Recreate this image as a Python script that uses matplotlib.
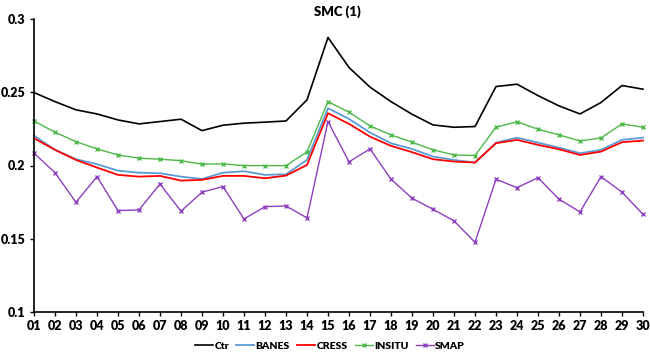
import matplotlib.pyplot as plt
import numpy as np

plt.rcParams['font.family'] = ['Lato', 'DejaVu Sans']
plt.rcParams['font.weight'] = 'heavy'

days = ['%02d' % d for d in range(1, 31)]

ctr = [0.2498, 0.2436, 0.2380, 0.2352, 0.2311, 0.2284, 0.2300, 0.2316, 0.2238, 0.2275,
       0.2289, 0.2296, 0.2304, 0.2448, 0.2874, 0.2669, 0.2535, 0.2436, 0.2350, 0.2277,
       0.2261, 0.2266, 0.2539, 0.2555, 0.2477, 0.2407, 0.2352, 0.2430, 0.2546, 0.2521]
banes = [0.2204, 0.2107, 0.2043, 0.2009, 0.1965, 0.1951, 0.1947, 0.1924, 0.1908, 0.1951,
         0.1961, 0.1936, 0.1940, 0.2038, 0.2391, 0.2318, 0.2225, 0.2152, 0.2113, 0.2061,
         0.2038, 0.2020, 0.2156, 0.2190, 0.2156, 0.2122, 0.2084, 0.2107, 0.2175, 0.2190]
cress = [0.2186, 0.2107, 0.2038, 0.1986, 0.1936, 0.1924, 0.1929, 0.1897, 0.1902, 0.1929,
         0.1929, 0.1913, 0.1931, 0.2004, 0.2357, 0.2284, 0.2197, 0.2134, 0.2091, 0.2043,
         0.2027, 0.2020, 0.2152, 0.2175, 0.2141, 0.2111, 0.2072, 0.2095, 0.2159, 0.2170]
insitu = [0.2304, 0.2227, 0.2163, 0.2113, 0.2072, 0.2050, 0.2043, 0.2033, 0.2009, 0.2011,
          0.1999, 0.1999, 0.1999, 0.2093, 0.2436, 0.2364, 0.2270, 0.2209, 0.2159, 0.2107,
          0.2072, 0.2068, 0.2261, 0.2298, 0.2248, 0.2209, 0.2168, 0.2188, 0.2284, 0.2261]
smap = [0.2084, 0.1951, 0.1749, 0.1924, 0.1692, 0.1697, 0.1874, 0.1688, 0.1818, 0.1856,
        0.1635, 0.1719, 0.1724, 0.1642, 0.2300, 0.2025, 0.2113, 0.1906, 0.1777, 0.1701,
        0.1622, 0.1476, 0.1906, 0.1849, 0.1917, 0.1770, 0.1683, 0.1924, 0.1818, 0.1667]

x = np.arange(len(days))

fig = plt.figure(figsize=(6.5, 3.52), dpi=100)
ax = fig.add_axes([34 / 650, 40 / 352, 609 / 650, 293 / 352])

ax.plot(x, ctr, color='black', lw=1.2, label='Ctr', clip_on=False)
ax.plot(x, banes, color='#5b9bd5', lw=1.3, label='BANES', clip_on=False)
ax.plot(x, cress, color='#ff0000', lw=1.3, label='CRESS', clip_on=False)
ax.plot(x, insitu, color='#4cb848', lw=1.0, marker='x', ms=3.5, mew=1.0,
        label='INSITU', clip_on=False)
ax.plot(x, smap, color='#8e3fbf', lw=1.0, marker='x', ms=3.5, mew=1.0,
        label='SMAP', clip_on=False)

ax.set_xlim(0, 29)
ax.set_ylim(0.1, 0.3)
ax.set_xticks(x)
ax.set_xticklabels(days)
ax.set_yticks([0.1, 0.15, 0.2, 0.25, 0.3])
ax.set_yticklabels(['0.1', '0.15', '0.2', '0.25', '0.3'])
ax.tick_params(axis='x', length=3, width=1, labelsize=9, pad=3)
ax.tick_params(axis='y', length=3, width=1, labelsize=9, pad=3)
for s in ['top', 'right']:
    ax.spines[s].set_visible(False)
for s in ['left', 'bottom']:
    ax.spines[s].set_linewidth(1.2)

fig.text(337 / 650, 1 - 12 / 352, 'SMC (1)', ha='center', va='center',
         fontsize=9.5, fontweight='heavy')

fig.legend(loc='center', bbox_to_anchor=(330 / 650, 1 - 346 / 352), ncol=5,
           frameon=False, fontsize=7.5, handlelength=1.7, handletextpad=0.15,
           columnspacing=0.7, borderaxespad=0)

fig.savefig('out.png', dpi=100)
